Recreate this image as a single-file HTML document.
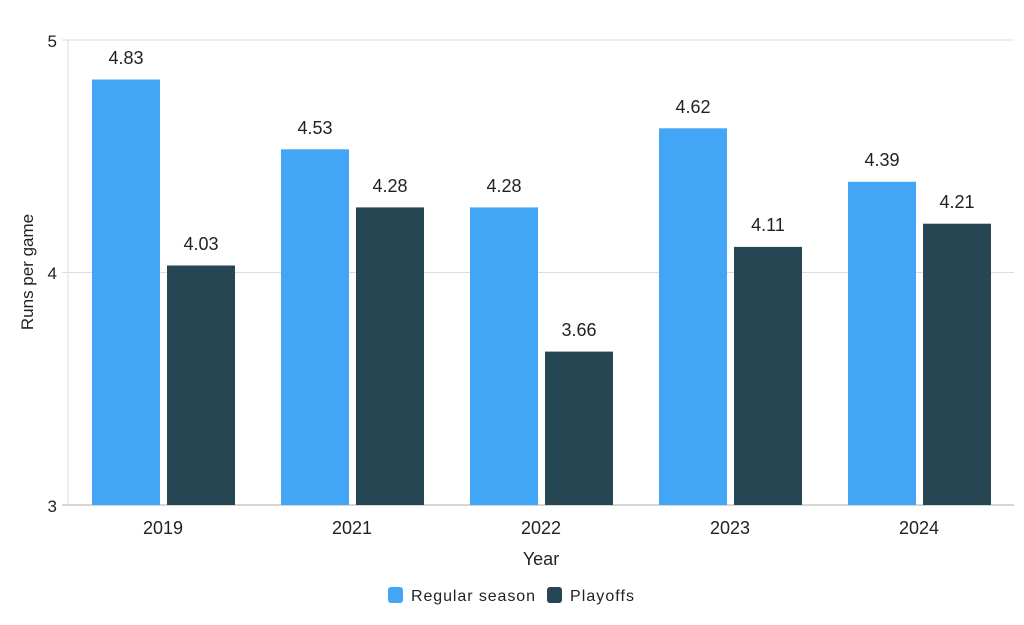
<!DOCTYPE html>
<html><head><meta charset="utf-8"><style>body{margin:0;background:#fff}svg{display:block}text{font-family:"Liberation Sans",sans-serif;fill:#222}</style></head>
<body>
<svg width="1024" height="625" viewBox="0 0 1024 625">
<g stroke="#dcdcdc" stroke-width="1">
<line x1="62" y1="40" x2="1014" y2="40"/>
<line x1="62" y1="272.5" x2="1014" y2="272.5"/>
<line x1="68" y1="40" x2="68" y2="505"/>
</g>
<line x1="62" y1="505" x2="1014" y2="505" stroke="#c8c8c8" stroke-width="1.5"/>
<g font-size="17" text-anchor="end"><text x="57" y="47">5</text><text x="57" y="279">4</text><text x="57" y="512">3</text></g>
<g fill="#42a5f5">
<rect x="92" y="79.5" width="68" height="425.5"/>
<rect x="281" y="149.3" width="68" height="355.7"/>
<rect x="470" y="207.4" width="68" height="297.6"/>
<rect x="659" y="128.3" width="68" height="376.7"/>
<rect x="848" y="181.8" width="68" height="323.2"/>
</g>
<g fill="#264653">
<rect x="167" y="265.5" width="68" height="239.5"/>
<rect x="356" y="207.4" width="68" height="297.6"/>
<rect x="545" y="351.6" width="68" height="153.4"/>
<rect x="734" y="246.9" width="68" height="258.1"/>
<rect x="923" y="223.7" width="68" height="281.3"/>
</g>
<g font-size="18" text-anchor="middle">
<text x="126" y="64">4.83</text><text x="201" y="250">4.03</text>
<text x="315" y="134">4.53</text><text x="390" y="192">4.28</text>
<text x="504" y="192">4.28</text><text x="579" y="336">3.66</text>
<text x="693" y="113">4.62</text><text x="768" y="231">4.11</text>
<text x="882" y="166">4.39</text><text x="957" y="208">4.21</text>
<text x="163" y="534">2019</text><text x="352" y="534">2021</text><text x="541" y="534">2022</text><text x="730" y="534">2023</text><text x="919" y="534">2024</text>
<text x="541" y="565">Year</text>
</g>
<text transform="translate(33,272) rotate(-90)" font-size="17" text-anchor="middle">Runs per game</text>
<rect x="388" y="587" width="15" height="16" rx="3" fill="#42a5f5"/>
<text x="411" y="601" font-size="16" textLength="124">Regular season</text>
<rect x="547" y="587" width="15" height="16" rx="3" fill="#264653"/>
<text x="570" y="601" font-size="16" textLength="64">Playoffs</text>
</svg>
</body></html>
